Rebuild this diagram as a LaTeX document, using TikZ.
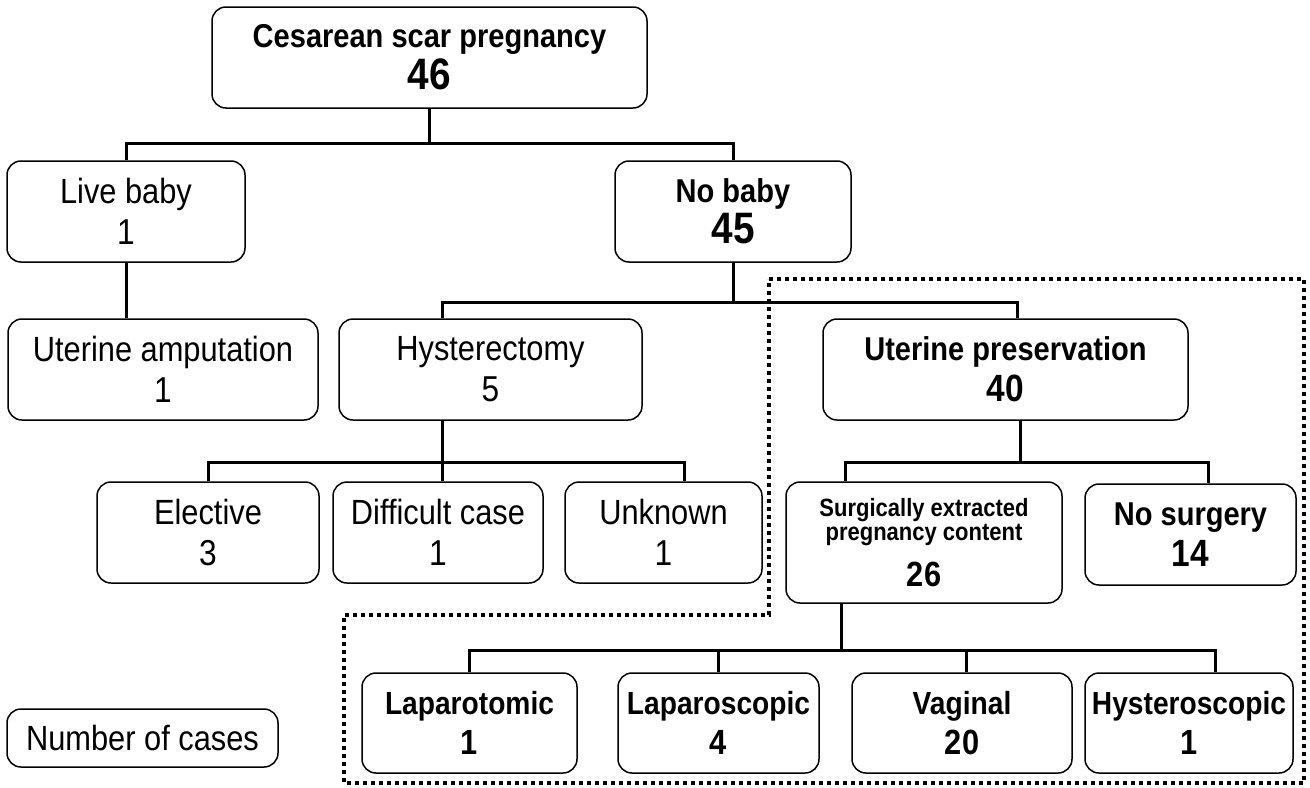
\documentclass[tikz,border=0pt]{standalone}
\usepackage{fontspec}
\setmainfont[FakeStretch=0.88]{Liberation Sans}
\usetikzlibrary{calc}

\newcommand{\rnum}{\fontsize{18}{20.5}\selectfont}
\newcommand{\bnum}[1]{\fontsize{#1}{20.5}\selectfont\bfseries}

\begin{document}
\begin{tikzpicture}[x=0.5pt, y=-0.5pt,
  case/.style={draw, line width=0.75pt, rounded corners=7pt, align=center,
    inner sep=0pt, minimum height=50.5pt},
  reg/.style={case, font=\fontsize{17.5}{20.5}\selectfont},
  bld/.style={case, font=\fontsize{16.5}{20.5}\selectfont\bfseries},
  way/.style={case, font=\fontsize{16}{20}\selectfont\bfseries, minimum height=50pt},
  link/.style={line width=1.5pt}]
  \useasboundingbox (0,0) rectangle (1310,787);

  \node[bld, minimum width=217.5pt, font=\fontsize{16.5}{21}\selectfont\bfseries] (top)
    at (429.5,57.5) {Cesarean scar pregnancy\\\bnum{22}46};
  \node[reg, minimum width=119pt] (live) at (126,211.5) {Live baby\\\rnum 1};
  \node[bld, minimum width=118pt] (nobaby) at (733,211.5) {No baby\\\bnum{22}45};
  \node[reg, minimum width=155pt] (amput) at (163,369.5) {Uterine amputation\\\rnum 1};
  \node[reg, minimum width=151.5pt] (hyst) at (490.5,369.5) {Hysterectomy\\\rnum 5};
  \node[bld, minimum width=182.5pt] (pres) at (1005.5,369.5) {Uterine preservation\\\bnum{19}40};
  \node[reg, minimum width=111pt] (elect) at (208,532.5) {Elective\\\rnum 3};
  \node[reg, minimum width=105pt] (diff) at (438,532.5) {Difficult case\\\rnum 1};
  \node[reg, minimum width=98.5pt] (unk) at (663.5,532.5) {Unknown\\\rnum 1};
  \node[bld, minimum width=138pt, minimum height=60.5pt, font=\fontsize{12.5}{12}\selectfont\bfseries]
    (surg) at (924,542.5) {Surgically extracted\\pregnancy content\\[7pt]\bnum{17.5}26};
  \node[bld, minimum width=105.5pt] (nosurg) at (1190.5,534.5) {No surgery\\\bnum{19}14};
  \node[way, minimum width=107.5pt] (lapt) at (469.5,723) {Laparotomic\\\bnum{17.5}1};
  \node[way, minimum width=100.5pt] (lapc) at (718.5,723) {Laparoscopic\\\bnum{17.5}4};
  \node[way, minimum width=110pt] (vag) at (962,723) {Vaginal\\\bnum{17.5}20};
  \node[way, minimum width=104pt] (hysc) at (1189,723) {Hysteroscopic\\\bnum{17.5}1};
  \node[reg, minimum width=135.5pt, minimum height=29pt] (legend) at (142.5,738) {Number of cases};

  \draw[link] (top.south) -- ++(0,35) coordinate (j1);
  \draw[link] (live.north) |- (j1) -| (nobaby.north);
  \draw[link] (live.south) -- (live.south |- amput.north);

  \coordinate (hystin) at ($(hyst.north)+(-48.5,0)$);
  \coordinate (presin) at ($(pres.north)+(11.5,0)$);
  \draw[link] (nobaby.south) -- ++(0,40) coordinate (j2);
  \draw[link] (hystin) |- (j2) -| (presin);

  \coordinate (hystout) at ($(hyst.south)+(-48.5,0)$);
  \draw[link] (hystout) -- (hystout |- diff.north);
  \path (hystout) ++(0,42) coordinate (j3);
  \draw[link] (elect.north) |- (j3) -| ($(unk.north)+(20.5,0)$);

  \coordinate (presout) at ($(pres.south)+(14.5,0)$);
  \draw[link] (presout) -- ++(0,42) coordinate (j4);
  \draw[link] ($(surg.north)+(-79,0)$) |- (j4) -| ($(nosurg.north)+(17.5,0)$);

  \coordinate (surgout) at ($(surg.south)+(-83,0)$);
  \draw[link] (surgout) -- ++(0,47) coordinate (j5);
  \draw[link] (lapt.north) |- (j5) -| ($(hysc.north)+(26,0)$);
  \foreach \n/\dx in {lapc/0, vag/4} {
    \draw[link] ($(\n.north)+(\dx,0)$) |- (j5);
  }

  \draw[line width=2pt, dash pattern=on 2pt off 2pt]
    (769,279) -- (1304,279) -- (1304,783) -- (344,783) -- (344,615) -- (769,615) -- cycle;
\end{tikzpicture}
\end{document}
